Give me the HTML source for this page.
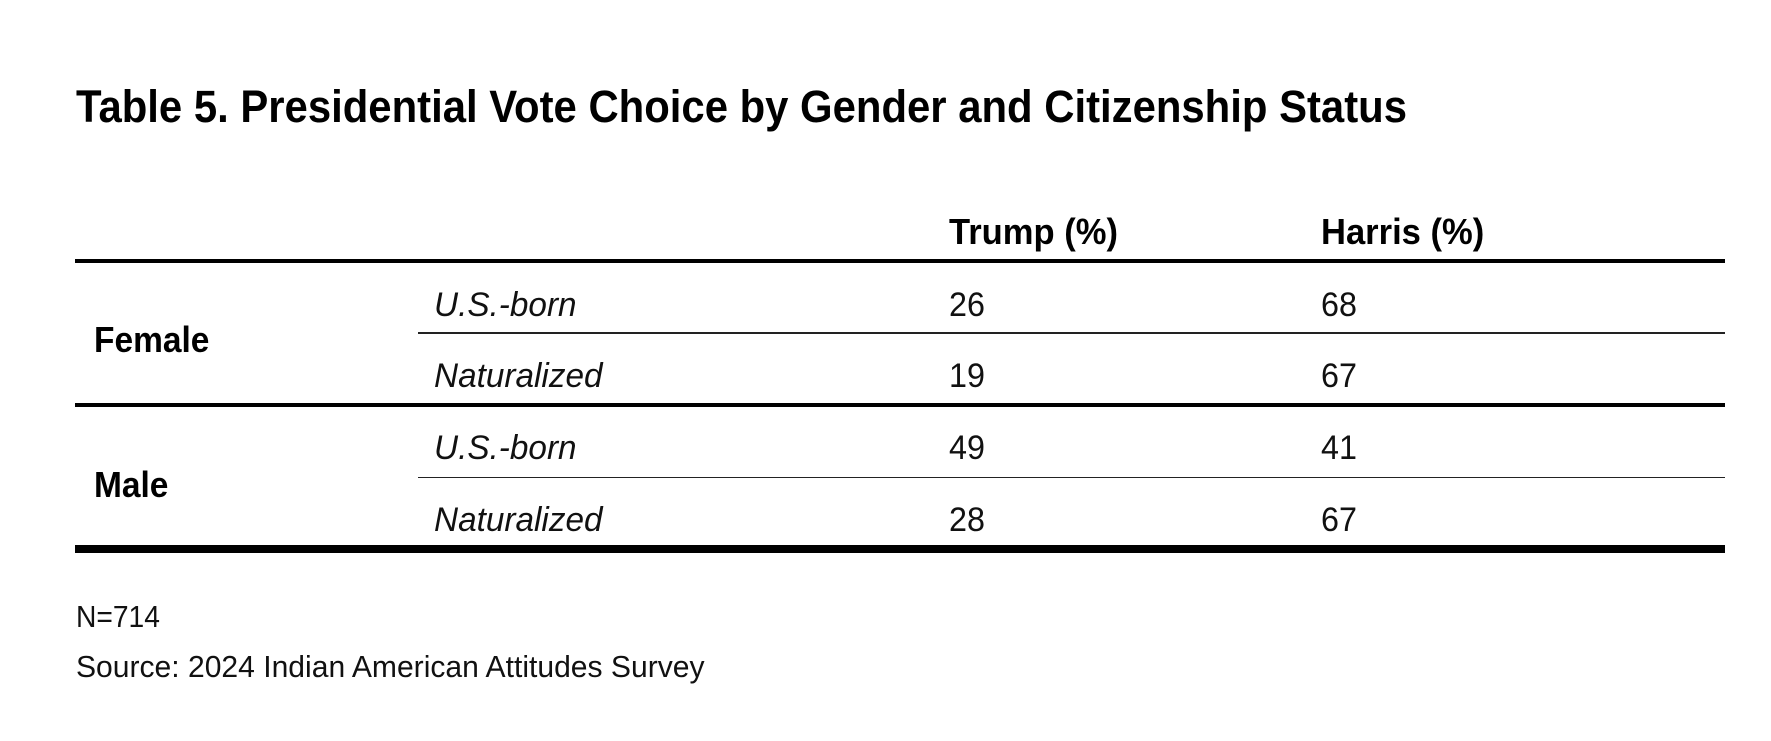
<!DOCTYPE html>
<html>
<head>
<meta charset="utf-8">
<style>
  html, body { margin:0; padding:0; background:#fff; }
  body { width:1771px; height:741px; position:relative; overflow:hidden; font-family:"Liberation Sans", Arial, sans-serif; color:#000; }
  .t { position:absolute; white-space:nowrap; line-height:1; transform-origin:0 0; }
  .title { font-size:45px; font-weight:bold; left:76px; top:84px; transform:scaleX(0.93); }
  .hdr { font-size:36px; font-weight:bold; top:213.5px; transform:scaleX(0.96); }
  .grp { font-size:36px; font-weight:bold; left:94px; transform:scaleX(0.93); }
  .it { font-size:34px; font-style:italic; left:434px; transform:scaleX(0.98); color:#111; }
  .num { font-size:34px; transform:scaleX(0.95); color:#111; }
  .foot { font-size:31px; left:76px; color:#111; }
  .rule { position:absolute; background:#000; }
</style>
</head>
<body>
  <div class="t title">Table 5. Presidential Vote Choice by Gender and Citizenship Status</div>

  <div class="t hdr" style="left:949px;">Trump (%)</div>
  <div class="t hdr" style="left:1321px;">Harris (%)</div>

  <div class="rule" style="left:75px; width:1650px; top:259px; height:4px;"></div>

  <div class="t grp" style="top:321.5px;">Female</div>
  <div class="t it" style="top:288.2px;">U.S.-born</div>
  <div class="t num" style="left:949px; top:288.2px;">26</div>
  <div class="t num" style="left:1321px; top:288.2px;">68</div>

  <div class="rule" style="left:418px; width:1307px; top:332px; height:1.5px; background:#222;"></div>

  <div class="t it" style="top:359.2px;">Naturalized</div>
  <div class="t num" style="left:949px; top:359.2px;">19</div>
  <div class="t num" style="left:1321px; top:359.2px;">67</div>

  <div class="rule" style="left:75px; width:1650px; top:403px; height:4px;"></div>

  <div class="t grp" style="top:466.5px;">Male</div>
  <div class="t it" style="top:431.2px;">U.S.-born</div>
  <div class="t num" style="left:949px; top:431.2px;">49</div>
  <div class="t num" style="left:1321px; top:431.2px;">41</div>

  <div class="rule" style="left:418px; width:1307px; top:476.5px; height:1.5px; background:#222;"></div>

  <div class="t it" style="top:503.2px;">Naturalized</div>
  <div class="t num" style="left:949px; top:503.2px;">28</div>
  <div class="t num" style="left:1321px; top:503.2px;">67</div>

  <div class="rule" style="left:75px; width:1650px; top:545px; height:8px;"></div>

  <div class="t foot" style="top:600.8px; transform:scaleX(0.91);">N=714</div>
  <div class="t foot" style="top:650.8px; transform:scaleX(0.97);">Source: 2024 Indian American Attitudes Survey</div>
</body>
</html>
